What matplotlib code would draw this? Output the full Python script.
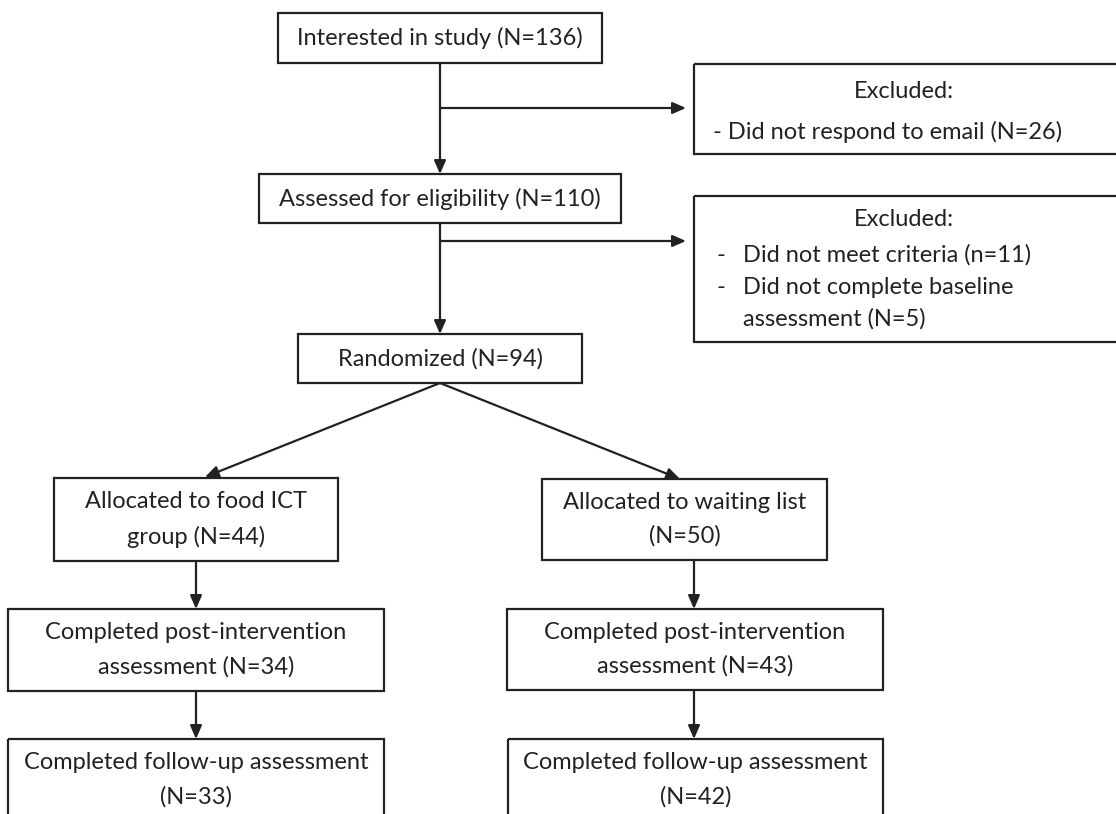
import matplotlib
matplotlib.use("Agg")
from matplotlib import pyplot as plt
from matplotlib.patches import Rectangle

plt.rcParams['font.family'] = ['Lato', 'DejaVu Sans']

# flow text
main_labels = [
    "Interested in study (N=136)",
    "Assessed for eligibility (N=110)",
    "Randomized (N=94)",
]
excluded_title = "Excluded:"
excluded_1 = ["- Did not respond to email (N=26)"]
excluded_2 = ["Did not meet criteria (n=11)",
              "Did not complete baseline",
              "assessment (N=5)"]
arm_labels = [
    ["Allocated to food ICT\ngroup (N=44)",
     "Completed post-intervention\nassessment (N=34)",
     "Completed follow-up assessment\n(N=33)"],
    ["Allocated to waiting list\n(N=50)",
     "Completed post-intervention\nassessment (N=43)",
     "Completed follow-up assessment\n(N=42)"],
]

W, H = 1116, 814
LC = '#222222'
LW = 1.6
FS = 17
LS = 1.72

fig = plt.figure(figsize=(W / 100, H / 100), dpi=100)
ax = fig.add_axes([0, 0, 1, 1])
ax.set_xlim(0, W)
ax.set_ylim(H, 0)
ax.axis('off')


def rect(x0, y0, x1, y1):
    ax.add_patch(Rectangle((x0, y0), x1 - x0, y1 - y0, fill=False,
                           edgecolor=LC, linewidth=LW, clip_on=False))


def label(x, y, text, ha='center'):
    ax.text(x, y, text, ha=ha, va='center', fontsize=FS, color=LC, linespacing=LS)


def arrow(x0, y0, x1, y1):
    ax.annotate('', xy=(x1, y1), xytext=(x0, y0),
                arrowprops=dict(arrowstyle='-|>,head_length=0.8,head_width=0.35',
                                color=LC, lw=LW, shrinkA=0, shrinkB=0))


cx = 440
main_boxes = [(278, 13, 602, 63), (259, 174, 621, 223), (298, 334, 582, 383)]
for b, t in zip(main_boxes, main_labels):
    rect(*b)
    label((b[0] + b[2]) / 2, (b[1] + b[3]) / 2, t)

arrow(cx, 63, cx, 174)
arrow(cx, 223, cx, 334)
arrow(cx, 108, 686, 108)
arrow(cx, 241, 686, 241)

# excluded boxes
rect(694, 64, 1125, 154)
label(904, 92, excluded_title)
label(713, 132, excluded_1[0], ha='left')

rect(694, 196, 1125, 342)
label(904, 220, excluded_title)
for y, t, dash in zip([255, 287, 319], excluded_2, [True, True, False]):
    if dash:
        label(717, y, "-", ha='left')
    label(743, y, t, ha='left')

# two arms
arm_boxes = [
    [(54, 478, 338, 561), (8, 609, 384, 691), (8, 739, 384, 830)],
    [(542, 479, 827, 560), (507, 609, 883, 690), (508, 739, 883, 830)],
]
arm_x = [196, 694]
tips = [(205, 477), (680, 479)]
for k in range(2):
    arrow(cx, 383, *tips[k])
    for j, (b, t) in enumerate(zip(arm_boxes[k], arm_labels[k])):
        rect(*b)
        yc = 780 if j == 2 else (b[1] + b[3]) / 2
        label((b[0] + b[2]) / 2, yc, t)
        if j > 0:
            prev = arm_boxes[k][j - 1]
            arrow(arm_x[k], prev[3], arm_x[k], b[1])

fig.savefig('out.png', dpi=100)
